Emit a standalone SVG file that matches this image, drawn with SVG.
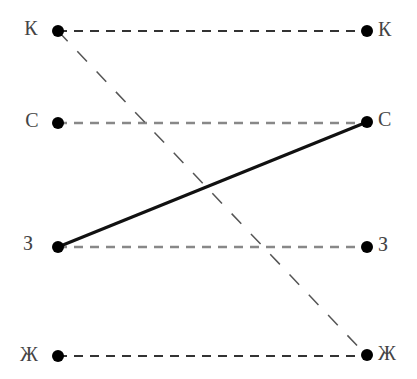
<svg xmlns="http://www.w3.org/2000/svg" width="417" height="379" viewBox="0 0 417 379">
<style>
.lbl{font-family:"Liberation Serif","DejaVu Serif",serif;font-size:20px;fill:#444;dominant-baseline:central}
.dot{fill:#000}
.dk{stroke:#333;stroke-width:2;stroke-dasharray:9 7;fill:none}
.lt{stroke:#888;stroke-width:2.5;stroke-dasharray:9 7;fill:none}
.diag{stroke:#555;stroke-width:1.5;stroke-dasharray:14 14;fill:none}
.solid{stroke:#111;stroke-width:3;fill:none}
</style>
<rect width="417" height="379" fill="#fff"/>
<g id="connectors">
<line class="dk" x1="58" y1="31" x2="367" y2="31"/>
<line class="lt" x1="58" y1="123" x2="367" y2="123"/>
<line class="lt" x1="58" y1="247" x2="367" y2="247"/>
<line class="dk" x1="58" y1="356" x2="367" y2="356"/>
<line class="diag" x1="58" y1="31" x2="367" y2="356"/>
<line class="solid" x1="58" y1="247" x2="367" y2="122"/>
</g>
<g id="L-K"><circle class="dot" cx="58" cy="31" r="6"/><text class="lbl" x="31" y="28" text-anchor="middle">К</text></g>
<g id="L-S"><circle class="dot" cx="58" cy="123" r="6"/><text class="lbl" x="32" y="120" text-anchor="middle">С</text></g>
<g id="L-Z"><circle class="dot" cx="58" cy="247" r="6"/><text class="lbl" x="28" y="243" text-anchor="middle">З</text></g>
<g id="L-Zh"><circle class="dot" cx="58" cy="356" r="6"/><text class="lbl" x="29" y="354" text-anchor="middle">Ж</text></g>
<g id="R-K"><circle class="dot" cx="367" cy="31" r="6"/><text class="lbl" x="378" y="29">К</text></g>
<g id="R-S"><circle class="dot" cx="367" cy="122" r="6"/><text class="lbl" x="378" y="119">С</text></g>
<g id="R-Z"><circle class="dot" cx="367" cy="247" r="6"/><text class="lbl" x="378" y="244">З</text></g>
<g id="R-Zh"><circle class="dot" cx="367" cy="355" r="6"/><text class="lbl" x="378" y="353">Ж</text></g>
</svg>
